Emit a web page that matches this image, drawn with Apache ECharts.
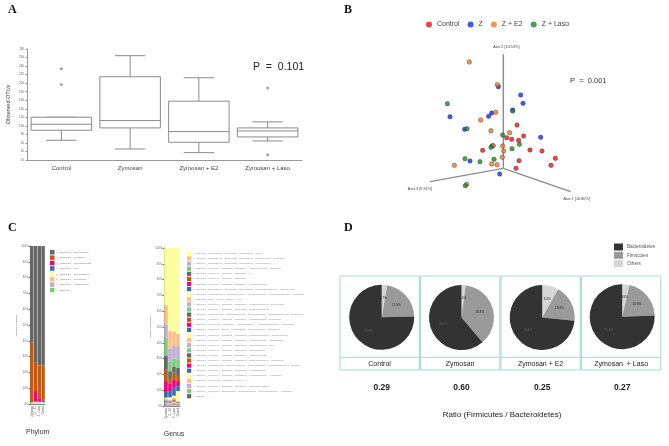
<!DOCTYPE html>
<html>
<head>
<meta charset="utf-8">
<script src="https://cdn.jsdelivr.net/npm/echarts@6/dist/echarts.min.js"></script>
<style>
  html, body { margin: 0; padding: 0; background: #fff; }
  #main { width: 669px; height: 446px; }
</style>
</head>
<body>
<div id="main"></div>
<script>
// ---- A: observed OTUs ----
var groupsA = ['Control', 'Zymosan', 'Zymosan + E2', 'Zymosan + Laso'];
// min, Q1, median, Q3, max
var boxStats = [
  [66.2, 89.7, 103.8, 120.2, 120.2],
  [45.8, 95.2, 112.4, 215.0, 264.3],
  [37.2, 61.5, 86.6, 157.8, 212.6],
  [64.6, 74.0, 88.1, 95.2, 109.3]
];
var outliers = [['Control', 233.8], ['Control', 197.0], ['Zymosan + Laso', 188.4], ['Zymosan + Laso', 32.5]];

// ---- B: PCoA (projected) ----
var pcoaGroups = ['Control', 'Z', 'Z + E2', 'Z + Laso'];
var pcoaColors = ['#e8141c', '#1530e0', '#f07a28', '#1a8a2a'];
var pcoaControl = [[0.41, 1.30], [0.10, 0.92], [0.25, 0.87], [0.61, 0.97], [0.46, 0.84], [-0.62, 0.54],
  [0.80, 0.55], [1.16, 0.52], [1.56, 0.30], [0.47, 0.23], [1.43, 0.09], [0.38, 0.00]];
var pcoaZ = [[-0.15, 2.45], [0.52, 2.20], [0.59, 1.95], [0.28, 1.75], [-0.35, 1.66], [-0.44, 1.56],
  [-1.60, 1.55], [-1.16, 1.17], [-0.33, 0.68], [1.12, 0.93], [-1.00, 0.22], [-0.11, -0.17]];
var pcoaE2 = [[-1.02, 3.19], [-0.18, 2.51], [-0.23, 1.68], [-0.68, 1.45], [-0.37, 1.13], [0.19, 1.07],
  [-0.30, 0.68], [-0.02, 0.67], [0.01, 0.52], [-0.03, 0.33], [-0.35, 0.13], [-0.19, 0.11],
  [-1.47, 0.09], [-1.10, -0.48]];
var pcoaLaso = [[-1.68, 1.94], [0.28, 1.72], [-1.09, 1.19], [-0.02, 1.00], [0.48, 0.72], [-0.37, 0.63],
  [0.26, 0.59], [-1.15, 0.29], [-0.70, 0.20], [-0.28, 0.27], [-1.14, -0.52]];
var pcoaAxisNames = ['Axis 1 [16.80%]', 'Axis 2 [14.53%]', 'Axis 3 [9.91%]'];
var pcoaAxisEnds = [[2.02, -0.70], [0, 3.42], [-2.20, -0.40]];

// ---- C: relative frequency ----
var groupsC = ['Zymosan', 'Z + E2', 'Z + Laso', 'Control'];
var accent = ['#666666', '#bf5b17', '#f0027f', '#386cb0', '#ffff99', '#fdc086', '#beaed4', '#7fc97f'];
var phylumNames = [
  'k__Bacteria;p__Bacteroidetes', 'k__Bacteria;p__Firmicutes', 'k__Bacteria;p__Verrucomicrobia',
  'k__Bacteria;p__TM7', 'k__Bacteria;p__Proteobacteria', 'k__Bacteria;p__Tenericutes',
  'k__Bacteria;p__Actinobacteria', 'k__Bacteria;__'
];
// rows: phylum, cols: Zymosan, Z+E2, Z+Laso, Control
var phylumValues = [
  [61.2, 73.4, 75.6, 75.5],
  [37.0, 18.4, 20.8, 21.9],
  [0.5, 6.6, 2.0, 0.3],
  [0.3, 0.4, 0.5, 1.2],
  [0.5, 0.6, 0.6, 0.6],
  [0.3, 0.4, 0.3, 0.3],
  [0.1, 0.1, 0.1, 0.1],
  [0.1, 0.1, 0.1, 0.1]
];
var genusNames = [
  'k__Bacteria;p__Bacteroidetes;c__Bacteroidia;o__Bacteroidales;f__S24-7;g__',
  'k__Bacteria;p__Bacteroidetes;c__Bacteroidia;o__Bacteroidales;f__Bacteroidaceae;g__Bacteroides',
  'k__Bacteria;p__Bacteroidetes;c__Bacteroidia;o__Bacteroidales;f__Prevotellaceae;g__',
  'k__Bacteria;p__Firmicutes;c__Clostridia;o__Clostridiales;f__Ruminococcaceae;g__Oscillospira',
  'k__Bacteria;p__Firmicutes;c__Clostridia;o__Clostridiales;f__;g__',
  'k__Bacteria;p__Firmicutes;c__Clostridia;o__Clostridiales;__;__',
  'k__Bacteria;p__Firmicutes;c__Clostridia;o__Clostridiales;f__Lachnospiraceae;g__',
  'k__Bacteria;p__Bacteroidetes;c__Bacteroidia;o__Bacteroidales;f__Porphyromonadaceae;g__Parabacteroides',
  'k__Bacteria;p__Verrucomicrobia;c__Verrucomicrobiae;o__Verrucomicrobiales;f__Verrucomicrobiaceae;g__Akkermansia',
  'k__Bacteria;p__TM7;c__TM7-3;o__CW040;f__F16;g__',
  'k__Bacteria;p__Firmicutes;c__Clostridia;o__Clostridiales;f__Ruminococcaceae;g__Ruminococcus',
  'k__Bacteria;p__Firmicutes;c__Clostridia;o__Clostridiales;f__Ruminococcaceae;g__',
  'k__Bacteria;p__Proteobacteria;c__Deltaproteobacteria;o__Desulfovibrionales;f__Desulfovibrionaceae;g__Desulfovibrio',
  'k__Bacteria;p__Firmicutes;c__Clostridia;o__Clostridiales;f__Lachnospiraceae;g__Coprococcus',
  'k__Bacteria;p__Tenericutes;c__Mollicutes;o__Anaeroplasmatales;f__Anaeroplasmataceae;g__Anaeroplasma',
  'k__Bacteria;p__Firmicutes;c__Bacilli;o__Lactobacillales;f__Lactobacillaceae;g__Lactobacillus',
  'k__Bacteria;p__Firmicutes;c__Clostridia;o__Clostridiales;f__Dehalobacteriaceae;g__Dehalobacterium',
  'k__Bacteria;p__Firmicutes;c__Clostridia;o__Clostridiales;f__Lachnospiraceae;g__[Ruminococcus]',
  'k__Bacteria;p__Firmicutes;c__Clostridia;o__Clostridiales;f__Lachnospiraceae;g__Dorea',
  'k__Bacteria;p__Firmicutes;c__Clostridia;o__Clostridiales;f__Lachnospiraceae;__',
  'k__Bacteria;p__Firmicutes;c__Clostridia;o__Clostridiales;f__Ruminococcaceae;__',
  'k__Bacteria;p__Firmicutes;c__Clostridia;o__Clostridiales;f__Ruminococcaceae;g__Anaerotruncus',
  'k__Bacteria;p__Proteobacteria;c__Deltaproteobacteria;o__Desulfovibrionales;f__Desulfovibrionaceae;g__Bilophila',
  'k__Bacteria;p__Firmicutes;c__Clostridia;o__Clostridiales;f__Peptococcaceae;g__',
  'k__Bacteria;p__Firmicutes;c__Clostridia;o__Clostridiales;f__Lachnospiraceae;g__Anaerostipes',
  'k__Bacteria;p__Tenericutes;c__Mollicutes;o__RF39;f__;g__',
  'k__Bacteria;p__Firmicutes;c__Clostridia;o__Clostridiales;f__Christensenellaceae;g__',
  'k__Bacteria;p__Firmicutes;c__Erysipelotrichi;o__Erysipelotrichales;f__Erysipelotrichaceae;g__Allobaculum',
  'k__Bacteria;__;__;__;__;__'
];
var genusValues = [
  [36.2, 52.5, 53.0, 54.3],
  [12.2, 11.0, 8.5, 7.8],
  [8.4, 8.5, 8.5, 8.4],
  [11.6, 6.0, 5.0, 5.3],
  [8.4, 5.0, 4.0, 4.6],
  [7.4, 3.0, 4.5, 3.8],
  [6.3, 4.5, 4.5, 3.2],
  [4.2, 4.0, 5.5, 3.1],
  [0.8, 1.5, 1.2, 6.3],
  [0.3, 0.3, 0.4, 0.2],
  [0.4, 0.3, 0.4, 0.2],
  [0.5, 0.4, 0.5, 0.3],
  [0.4, 0.3, 0.4, 0.2],
  [0.3, 0.3, 0.3, 0.2],
  [0.2, 0.2, 0.3, 0.2],
  [0.3, 0.3, 0.3, 0.2],
  [0.2, 0.2, 0.3, 0.2],
  [0.2, 0.2, 0.2, 0.1],
  [0.3, 0.2, 0.3, 0.2],
  [0.2, 0.2, 0.2, 0.1],
  [0.2, 0.2, 0.3, 0.2],
  [0.1, 0.1, 0.2, 0.1],
  [0.2, 0.2, 0.2, 0.2],
  [0.1, 0.1, 0.2, 0.1],
  [0.1, 0.1, 0.2, 0.1],
  [0.1, 0.1, 0.1, 0.1],
  [0.1, 0.1, 0.2, 0.1],
  [0.1, 0.1, 0.1, 0.1],
  [0.2, 0.1, 0.2, 0.1]
];

// ---- D: phylum ratio pies ----
var groupsD = ['Control', 'Zymosan', 'Zymosan + E2', 'Zymosan  + Laso'];
var pieNames = ['Others', 'Firmicutes', 'Bacteroidetes'];
var pieColors = ['#d6d6d6', '#9a9a9a', '#333333'];
var pieValues = [
  [2.7, 21.9, 75.4],
  [2.0, 36.8, 61.2],
  [8.2, 18.4, 73.4],
  [3.6, 20.8, 75.6]
];
var ratios = ['0.29', '0.60', '0.25', '0.27'];

var pieCenters = [[381.7, 317.3], [461.5, 317.5], [542.2, 317.5], [622.2, 316.7]];
var boxLefts = [340, 420.5, 501, 581.5];

var chart = echarts.init(document.getElementById('main'));

var tiny = { fontSize: 2.5, color: '#666' };

var series = [];

// A boxplot drawn as custom series (half-width whisker caps)
series.push({
  type: 'custom',
  xAxisIndex: 0, yAxisIndex: 0,
  data: boxStats.map(function (s, i) { return [i].concat(s); }),
  encode: { x: 0, y: [1, 2, 3, 4, 5] },
  renderItem: function (params, api) {
    var i = api.value(0);
    var w = api.size([1, 0])[0] * 0.88;
    var cap = w * 0.5;
    var pMin = api.coord([i, api.value(1)]);
    var pQ1 = api.coord([i, api.value(2)]);
    var pMed = api.coord([i, api.value(3)]);
    var pQ3 = api.coord([i, api.value(4)]);
    var pMax = api.coord([i, api.value(5)]);
    var x = pMed[0];
    var st = { stroke: '#8a8a8a', lineWidth: 1, fill: null };
    return {
      type: 'group',
      children: [
        { type: 'line', shape: { x1: x, y1: pQ3[1], x2: x, y2: pMax[1] }, style: st },
        { type: 'line', shape: { x1: x, y1: pQ1[1], x2: x, y2: pMin[1] }, style: st },
        { type: 'line', shape: { x1: x - cap / 2, y1: pMax[1], x2: x + cap / 2, y2: pMax[1] }, style: st },
        { type: 'line', shape: { x1: x - cap / 2, y1: pMin[1], x2: x + cap / 2, y2: pMin[1] }, style: st },
        { type: 'rect', shape: { x: x - w / 2, y: pQ3[1], width: w, height: pQ1[1] - pQ3[1] },
          style: { stroke: '#8a8a8a', lineWidth: 1, fill: '#fff' } },
        { type: 'line', shape: { x1: x - w / 2, y1: pMed[1], x2: x + w / 2, y2: pMed[1] }, style: st }
      ]
    };
  }
});
series.push({
  type: 'scatter', xAxisIndex: 0, yAxisIndex: 0,
  symbolSize: 3, itemStyle: { color: '#8a8a8a' },
  data: outliers
});

// B axes
pcoaAxisEnds.forEach(function (end, k) {
  var pos = ['bottom', 'top', 'bottom'][k];
  var off = [[6, 0], [3, 0], [-10, 0]][k];
  series.push({
    type: 'line', xAxisIndex: 1, yAxisIndex: 1,
    symbol: 'none', silent: true, z: 1,
    lineStyle: { color: '#8c8c8c', width: 1.4 },
    data: [[0, 0], { value: end, symbol: 'circle', symbolSize: 0.1,
      label: { show: true, position: pos, offset: off, formatter: pcoaAxisNames[k], fontSize: 3.8, color: '#444' } }]
  });
});
[pcoaControl, pcoaZ, pcoaE2, pcoaLaso].forEach(function (pts, k) {
  series.push({
    type: 'scatter', name: pcoaGroups[k], xAxisIndex: 1, yAxisIndex: 1, z: 3,
    symbolSize: 4.5,
    itemStyle: { color: pcoaColors[k], borderColor: '#333', borderWidth: 0.5 },
    data: pts
  });
});

// C stacked bars (first legend item on top -> pushed last)
for (var p = phylumNames.length - 1; p >= 0; p--) {
  series.push({
    type: 'bar', name: phylumNames[p], stack: 'phylum', xAxisIndex: 2, yAxisIndex: 2,
    barCategoryGap: '10%', itemStyle: { color: accent[p % 8] },
    data: phylumValues[p]
  });
}
for (var g = genusNames.length - 1; g >= 0; g--) {
  series.push({
    type: 'bar', name: genusNames[g], stack: 'genus', xAxisIndex: 3, yAxisIndex: 3,
    barCategoryGap: '10%', itemStyle: { color: accent[(g + 4) % 8] },
    data: genusValues[g]
  });
}

// D pies
pieValues.forEach(function (vals, k) {
  series.push({
    type: 'pie', center: pieCenters[k], radius: 32.5, startAngle: 90,
    silent: true,
    label: { show: true, position: 'inside', fontSize: 3, color: '#222',
      formatter: function (d) { return d.value.toFixed(1) + '%'; } },
    labelLine: { show: false },
    data: vals.map(function (v, j) {
      return { name: pieNames[j], value: v, itemStyle: { color: pieColors[j] },
        label: j === 2 ? { color: '#666' } : {} };
    })
  });
});

var graphics = [
  { type: 'text', left: 8, top: 4, style: { text: 'A', font: 'bold 12px "Liberation Serif"', fill: '#111' } },
  { type: 'text', left: 344, top: 4, style: { text: 'B', font: 'bold 12px "Liberation Serif"', fill: '#111' } },
  { type: 'text', left: 8, top: 222, style: { text: 'C', font: 'bold 12px "Liberation Serif"', fill: '#111' } },
  { type: 'text', left: 344, top: 222, style: { text: 'D', font: 'bold 12px "Liberation Serif"', fill: '#111' } },
  { type: 'text', x: 253, y: 62, style: { text: 'P  =  0.101', font: '10.5px "Liberation Sans"', fill: '#222' } },
  { type: 'text', x: 570, y: 77, style: { text: 'P  =  0.001', font: '7.5px "Liberation Sans"', fill: '#333' } },
  { type: 'text', x: 37.7, y: 432, style: { text: 'Phylum', font: '7px "Liberation Sans"', fill: '#333', align: 'center', verticalAlign: 'middle' } },
  { type: 'text', x: 174, y: 434, style: { text: 'Genus', font: '7px "Liberation Sans"', fill: '#333', align: 'center', verticalAlign: 'middle' } },
  { type: 'text', x: 502, y: 414.5, style: { text: 'Ratio (Firmicutes / Bacteroidetes)', font: '8px "Liberation Sans"', fill: '#222', align: 'center', verticalAlign: 'middle' } }
];
boxLefts.forEach(function (bx, k) {
  graphics.push({ type: 'rect', shape: { x: bx, y: 276, width: 79.3, height: 94 },
    style: { fill: null, stroke: '#a9d6d6', lineWidth: 1 }, z: 100 });
  graphics.push({ type: 'line', shape: { x1: bx, y1: 357.3, x2: bx + 79.3, y2: 357.3 },
    style: { stroke: '#a9d6d6', lineWidth: 1 }, z: 100 });
  graphics.push({ type: 'text', x: bx + 39.6, y: 364, style: { text: groupsD[k], font: '7px "Liberation Sans"', fill: '#222', align: 'center', verticalAlign: 'middle' } });
  graphics.push({ type: 'text', x: pieCenters[k][0], y: 387.5, style: { text: ratios[k], font: 'bold 8.5px "Liberation Sans"', fill: '#222', align: 'center', verticalAlign: 'middle' } });
});

var option = {
  animation: false,
  backgroundColor: '#fff',
  textStyle: { fontFamily: 'Liberation Sans' },
  legend: [
    { data: pcoaGroups, left: 421, top: 16, icon: 'circle', itemWidth: 6, itemHeight: 6, itemGap: 8,
      itemStyle: { borderWidth: 0 },
      textStyle: { fontSize: 7, color: '#444' } },
    { data: phylumNames, left: 50, top: 250, orient: 'vertical', icon: 'rect', itemWidth: 4.5, itemHeight: 4.5,
      itemGap: 0.9, padding: 0, textStyle: { fontSize: 2.4, color: '#777', padding: [0, 0, 0, -3] } },
    { data: genusNames, left: 187, top: 251.3, orient: 'vertical', icon: 'rect', itemWidth: 4.2, itemHeight: 4.2,
      itemGap: 0.9, padding: 0, textStyle: { fontSize: 2.1, color: '#888', padding: [0, 0, 0, -3] } },
    { data: ['Bacteroidetes', 'Firmicutes', 'Others'], left: 614, top: 243.5, orient: 'vertical', icon: 'rect',
      itemWidth: 9, itemHeight: 7, itemGap: 1.3, padding: 0, textStyle: { fontSize: 4.6, color: '#555', padding: [0, 0, 0, -1] } }
  ],
  grid: [
    { left: 27, top: 49, width: 275, height: 111 },
    { left: 330, top: 0, width: 339, height: 220 },
    { left: 30, top: 246, width: 15, height: 158 },
    { left: 164, top: 248, width: 16, height: 158 }
  ],
  xAxis: [
    { type: 'category', gridIndex: 0, data: groupsA,
      axisLine: { lineStyle: { color: '#999' } },
      axisTick: { alignWithLabel: true, length: 2, lineStyle: { color: '#999' } },
      axisLabel: { fontSize: 6, color: '#444', margin: 5 } },
    { type: 'value', gridIndex: 1, min: -5.2, max: 4.97, show: false },
    { type: 'category', gridIndex: 2, data: groupsC,
      axisLine: { lineStyle: { color: '#888' } }, axisTick: { show: false },
      axisLabel: { fontSize: 2.6, color: '#555', rotate: 90, margin: 2, interval: 0 } },
    { type: 'category', gridIndex: 3, data: groupsC,
      axisLine: { lineStyle: { color: '#888' } }, axisTick: { show: false },
      axisLabel: { fontSize: 2.6, color: '#555', rotate: 90, margin: 2, interval: 0 } }
  ],
  yAxis: [
    { type: 'value', gridIndex: 0, min: 20, max: 280, interval: 20,
      name: 'Observed OTUs', nameLocation: 'middle', nameGap: 16, nameTextStyle: { fontSize: 5.5, color: '#444' },
      axisLine: { show: true, lineStyle: { color: '#999' } },
      axisTick: { show: true, length: 1.5, lineStyle: { color: '#999' } },
      splitLine: { show: false },
      axisLabel: { fontSize: 3, color: '#666', margin: 3 } },
    { type: 'value', gridIndex: 1, min: -1.55, max: 5.05, show: false },
    { type: 'value', gridIndex: 2, min: 0, max: 100, interval: 10,
      name: 'Relative Frequency', nameLocation: 'middle', nameGap: 9, nameTextStyle: tiny,
      axisLine: { show: true, lineStyle: { color: '#666' } },
      axisTick: { show: true, length: 1.5, lineStyle: { color: '#666' } }, splitLine: { show: false },
      axisLabel: { fontSize: 2.6, color: '#666', margin: 2, formatter: '{value}%' } },
    { type: 'value', gridIndex: 3, min: 0, max: 100, interval: 10,
      name: 'Relative Frequency', nameLocation: 'middle', nameGap: 10, nameTextStyle: tiny,
      axisLine: { show: true, lineStyle: { color: '#666' } },
      axisTick: { show: true, length: 1.5, lineStyle: { color: '#666' } }, splitLine: { show: false },
      axisLabel: { fontSize: 2.6, color: '#666', margin: 2, formatter: '{value}%' } }
  ],
  graphic: graphics,
  series: series
};

chart.setOption(option);
</script>
</body>
</html>
